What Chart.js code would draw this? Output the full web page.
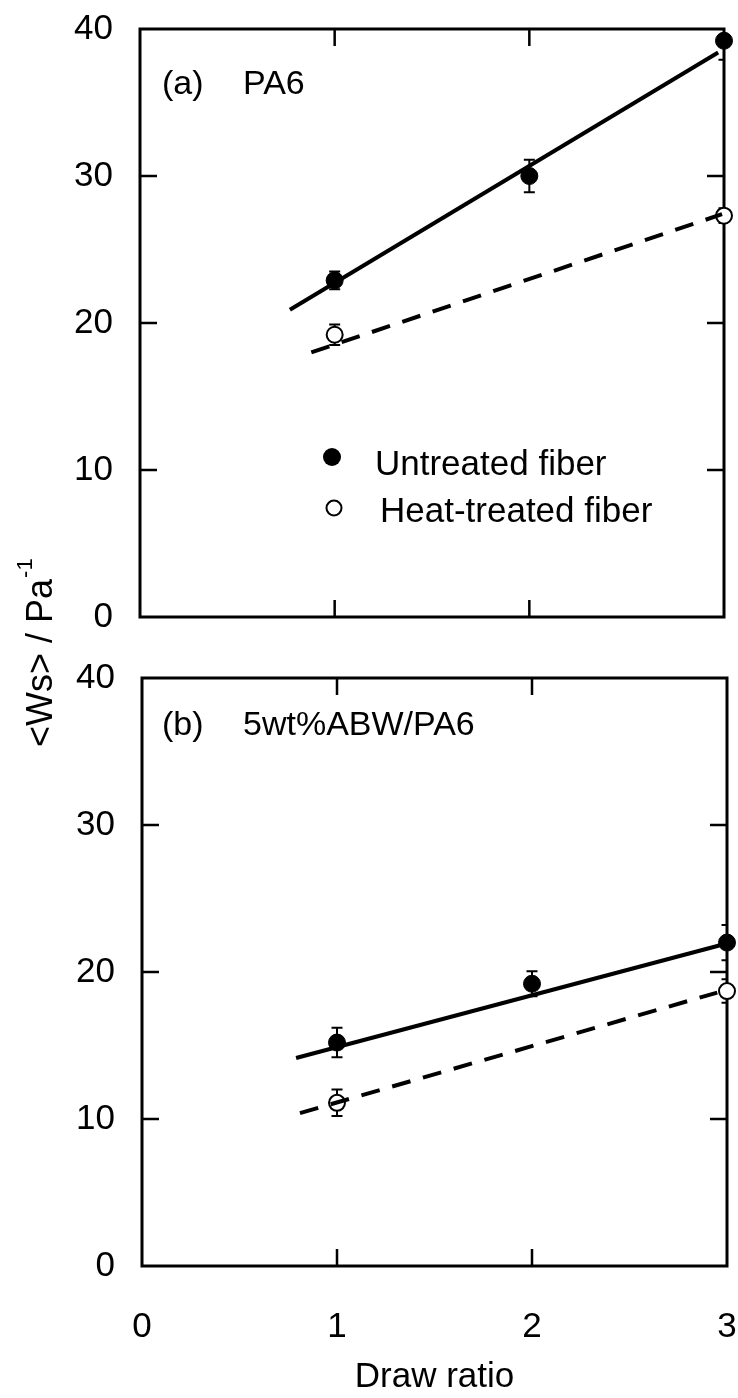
<!DOCTYPE html>
<html>
<head>
<meta charset="utf-8">
<script src="https://cdn.jsdelivr.net/npm/chart.js@4.4.0/dist/chart.umd.min.js"></script>
<style>
  html, body { margin: 0; padding: 0; background: #fff; }
  #wrap { position: relative; width: 738px; height: 1398px; }
  canvas { position: absolute; left: 0; top: 0; }
</style>
</head>
<body>
<div id="wrap">
  <canvas id="chartA" width="738" height="1398"></canvas>
  <canvas id="chartB" width="738" height="1398"></canvas>
</div>
<script>
// x positions
var drawRatio = [1, 2, 3];
var heatRatio = [1, 3];

// (a) PA6
var untreatedA = [22.9, 30.0, 39.2];
var untreatedAErr = [0.6, 1.1, 1.3];
var heatA = [19.2, 27.3];
var heatAErr = [0.7, 0.5];
var fitAx = [0.77, 2.97];
var fitAy = [20.9, 38.4];
var fitHeatAx = [0.88, 2.99];
var fitHeatAy = [18.0, 27.4];

// (b) 5wt%ABW/PA6
var untreatedB = [15.2, 19.2, 22.0];
var untreatedBErr = [1.0, 0.85, 1.2];
var heatB = [11.1, 18.7];
var heatBErr = [0.9, 0.8];
var fitBx = [0.79, 2.96];
var fitBy = [14.15, 21.8];
var fitHeatBx = [0.81, 2.95];
var fitHeatBy = [10.4, 18.6];

var yTicks = [0, 10, 20, 30, 40];
var xTicks = [0, 1, 2, 3];

var legendLabels = ['Untreated fiber', 'Heat-treated fiber'];

var FONT = "'Liberation Sans', Arial, Helvetica, sans-serif";
Chart.defaults.color = '#000';
Chart.defaults.font.family = FONT;

function pts(xs, ys) {
  var out = [];
  for (var i = 0; i < xs.length; i++) out.push({x: xs[i], y: ys[i]});
  return out;
}

function fitLine(xs, ys, dashed) {
  return {
    data: pts(xs, ys), showLine: true, pointRadius: 0,
    borderColor: '#000', borderWidth: 4, borderDash: dashed ? [19, 13] : [],
    clip: false
  };
}

function markers(ys, errs, filled, xs, label) {
  return {
    label: label,
    data: pts(xs, ys), errors: errs, showLine: false,
    pointRadius: filled ? 8.5 : 8,
    pointBorderWidth: filled ? 1 : 2,
    pointBackgroundColor: filled ? '#000' : '#fff',
    pointBorderColor: '#000',
    clip: false
  };
}

// no label overflow padding, so the plot box sits where we put it
function noPad(s) {
  s.paddingTop = 0; s.paddingBottom = 0; s.paddingLeft = 0; s.paddingRight = 0;
}

// frame with inward ticks + error bars
var framePlugin = {
  id: 'frame',
  beforeDatasetsDraw: function(chart) {
    var ctx = chart.ctx, a = chart.chartArea;
    var xs = chart.scales.x, ys = chart.scales.y;
    ctx.save();
    ctx.strokeStyle = '#000';
    ctx.lineWidth = 3;
    ctx.strokeRect(a.left, a.top, a.right - a.left, a.bottom - a.top);
    ctx.lineWidth = 2.5;
    ctx.beginPath();
    yTicks.forEach(function(v) {
      if (v <= 0 || v >= 40) return;
      var py = ys.getPixelForValue(v);
      ctx.moveTo(a.left, py); ctx.lineTo(a.left + 17, py);
      ctx.moveTo(a.right, py); ctx.lineTo(a.right - 17, py);
    });
    xTicks.forEach(function(v) {
      if (v <= 0 || v >= 3) return;
      var px = xs.getPixelForValue(v);
      ctx.moveTo(px, a.top); ctx.lineTo(px, a.top + 17);
      ctx.moveTo(px, a.bottom); ctx.lineTo(px, a.bottom - 17);
    });
    ctx.stroke();

    // error bars, clipped to the plot box
    ctx.beginPath();
    ctx.rect(a.left, a.top, a.right - a.left, a.bottom - a.top);
    ctx.clip();
    ctx.lineWidth = 2;
    chart.data.datasets.forEach(function(ds, di) {
      if (!ds.errors) return;
      var meta = chart.getDatasetMeta(di);
      ds.data.forEach(function(p, i) {
        var px = meta.data[i].x;
        var t = ys.getPixelForValue(p.y + ds.errors[i]);
        var b = ys.getPixelForValue(p.y - ds.errors[i]);
        ctx.beginPath();
        ctx.moveTo(px, t); ctx.lineTo(px, b);
        ctx.moveTo(px - 5.5, t); ctx.lineTo(px + 5.5, t);
        ctx.moveTo(px - 5.5, b); ctx.lineTo(px + 5.5, b);
        ctx.stroke();
      });
    });
    ctx.restore();
  }
};

function panelLabel(tag, name, baseY) {
  return {
    id: 'label' + tag,
    afterDraw: function(chart) {
      var ctx = chart.ctx;
      ctx.save();
      ctx.fillStyle = '#000';
      ctx.font = '34px ' + FONT;
      ctx.textBaseline = 'alphabetic';
      ctx.fillText(tag, 162, baseY);
      ctx.fillText(name, 243, baseY);
      ctx.restore();
    }
  };
}

var legendPlugin = {
  id: 'legendA',
  afterDraw: function(chart) {
    var ctx = chart.ctx;
    ctx.save();
    ctx.fillStyle = '#000';
    ctx.strokeStyle = '#000';
    ctx.beginPath(); ctx.arc(332, 457, 9, 0, Math.PI * 2); ctx.fill();
    ctx.lineWidth = 2;
    ctx.beginPath(); ctx.arc(334, 508, 7.5, 0, Math.PI * 2); ctx.stroke();
    ctx.font = '35px ' + FONT;
    ctx.fillText(legendLabels[0], 375, 475);
    ctx.fillText(legendLabels[1], 380, 522);
    ctx.restore();
  }
};

var yTitlePlugin = {
  id: 'yTitle',
  afterDraw: function(chart) {
    var ctx = chart.ctx;
    ctx.save();
    ctx.fillStyle = '#000';
    ctx.translate(52, 747);
    ctx.rotate(-Math.PI / 2);
    ctx.font = '36px ' + FONT;
    ctx.textBaseline = 'alphabetic';
    var main = '<Ws> / Pa';
    ctx.fillText(main, 0, 0);
    var w = ctx.measureText(main).width;
    ctx.font = '22px ' + FONT;
    ctx.fillText('-1', w + 1, -20);
    ctx.restore();
  }
};

function buildChart(id, datasets, pad, yWidth, xHeight, showX, plugins) {
  return new Chart(document.getElementById(id), {
    type: 'scatter',
    data: { datasets: datasets },
    options: {
      responsive: false,
      animation: false,
      events: [],
      layout: { padding: pad },
      plugins: { legend: { display: false }, tooltip: { enabled: false } },
      scales: {
        x: {
          type: 'linear', min: 0, max: 3,
          afterBuildTicks: function(s) { s.ticks = xTicks.map(function(v) { return {value: v}; }); },
          afterFit: function(s) { s.height = xHeight; noPad(s); },
          grid: { display: false, drawTicks: false },
          border: { display: false },
          ticks: { display: showX, font: { size: 35 }, padding: 40, maxRotation: 0, autoSkip: false },
          title: { display: showX, text: 'Draw ratio', font: { size: 35 }, padding: 0 }
        },
        y: {
          type: 'linear', min: 0, max: 40,
          afterBuildTicks: function(s) { s.ticks = yTicks.map(function(v) { return {value: v}; }); },
          afterFit: function(s) { s.width = yWidth; noPad(s); },
          grid: { display: false, drawTicks: false },
          border: { display: false },
          ticks: { font: { size: 35 }, padding: 27 }
        }
      }
    },
    plugins: plugins
  });
}

buildChart('chartA', [
  fitLine(fitAx, fitAy, false),
  fitLine(fitHeatAx, fitHeatAy, true),
  markers(untreatedA, untreatedAErr, true, drawRatio, legendLabels[0]),
  markers(heatA, heatAErr, false, heatRatio, legendLabels[1])
], { left: 0, top: 29, right: 14, bottom: 1398 - 617 }, 140, 0, false,
  [framePlugin, panelLabel('(a)', 'PA6', 94), legendPlugin]);

buildChart('chartB', [
  fitLine(fitBx, fitBy, false),
  fitLine(fitHeatBx, fitHeatBy, true),
  markers(untreatedB, untreatedBErr, true, drawRatio, legendLabels[0]),
  markers(heatB, heatBErr, false, heatRatio, legendLabels[1])
], { left: 0, top: 678, right: 11, bottom: 0 }, 142, 132, true,
  [framePlugin, panelLabel('(b)', '5wt%ABW/PA6', 735), yTitlePlugin]);
</script>
</body>
</html>
